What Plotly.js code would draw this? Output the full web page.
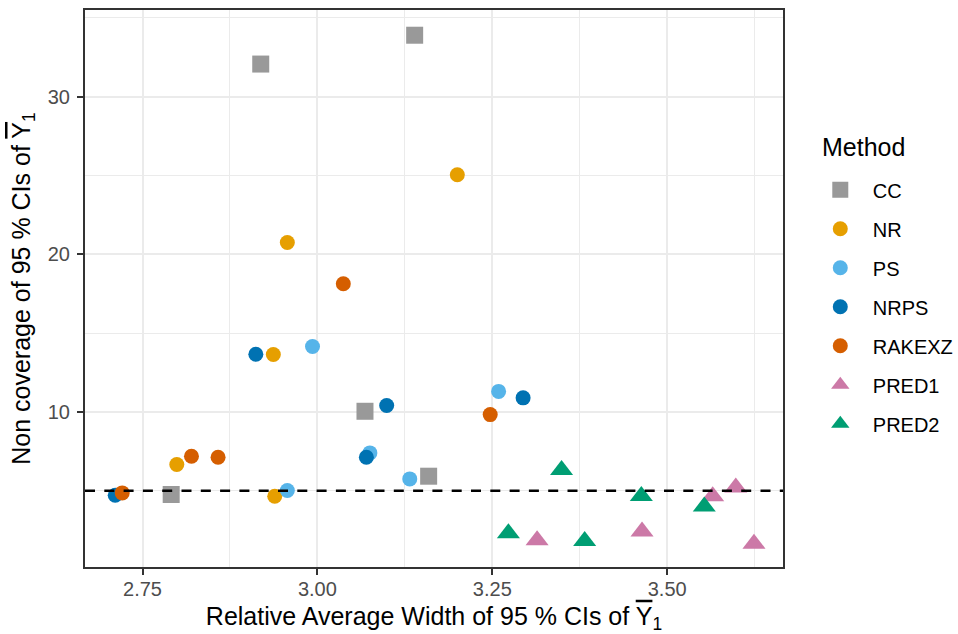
<!DOCTYPE html>
<html>
<head>
<meta charset="utf-8">
<script src="https://cdn.plot.ly/plotly-3.0.1.min.js"></script>
<style>html,body{margin:0;padding:0;background:#fff;}#chart{width:958px;height:634px;}</style>
</head>
<body>
<div id="chart"></div>
<script>
// ---- data ----
const methods = ["CC", "NR", "PS", "NRPS", "RAKEXZ", "PRED1", "PRED2"];
const ccX = [2.919, 3.139, 3.068, 2.791, 3.159];
const ccY = [32.07, 33.9, 10.04, 4.76, 5.92];
const nrX = [2.957, 3.200, 2.937, 2.799, 2.939];
const nrY = [20.75, 25.05, 13.64, 6.66, 4.65];
const psX = [2.993, 2.957, 3.075, 3.132, 3.259];
const psY = [14.15, 5.01, 7.40, 5.75, 11.30];
const nrpsX = [2.912, 3.099, 3.070, 2.711, 3.294];
const nrpsY = [13.66, 10.41, 7.12, 4.71, 10.89];
const rakeX = [3.037, 2.820, 2.858, 2.721, 3.247];
const rakeY = [18.13, 7.19, 7.12, 4.86, 9.83];
const pred1X = [3.314, 3.464, 3.565, 3.598, 3.624];
const pred1Y = [1.85, 2.41, 4.65, 5.20, 1.64];
const pred2X = [3.273, 3.349, 3.382, 3.463, 3.553];
const pred2Y = [2.30, 6.32, 1.81, 4.67, 3.99];
const nominalLevel = 5;
const xTickVals = [2.75, 3.00, 3.25, 3.50];
const xTickText = ["2.75", "3.00", "3.25", "3.50"];
const yTickVals = [10, 20, 30];
const yTickText = ["10", "20", "30"];
const legendTitle = "Method";

// ---- styles ----
const colors = ["#999999", "#E69F00", "#56B4E9", "#0072B2", "#D55E00", "#CC79A7", "#009E73"];
const symbols = ["square", "circle", "circle", "circle", "circle", "triangle-up", "triangle-up"];
const sizes = [17, 15, 15, 15, 15, 20, 20];
const xs = [ccX, nrX, psX, nrpsX, rakeX, pred1X, pred2X];
const ys = [ccY, nrY, psY, nrpsY, rakeY, pred1Y, pred2Y];

const traces = methods.map((m, i) => ({
  type: "scatter",
  mode: "markers",
  name: m,
  legendgroup: m,
  x: xs[i],
  y: ys[i],
  marker: {symbol: symbols[i], size: sizes[i], color: colors[i], line: {width: 0}},
  hoverinfo: "x+y+name"
}));

const FONT = "Liberation Sans, Arial, Helvetica, sans-serif";
const ybar = '<span style="text-decoration:overline">Y</span><sub>1</sub>';

const layout = {
  width: 958,
  height: 634,
  margin: {l: 85, r: 175.3, t: 10, b: 67.3},
  paper_bgcolor: "#ffffff",
  plot_bgcolor: "#ffffff",
  font: {family: FONT, color: "#000000"},
  showlegend: true,
  xaxis: {
    range: [2.6678, 3.6655],
    tickmode: "array",
    tickvals: xTickVals,
    ticktext: xTickText,
    ticks: "outside",
    ticklen: 6,
    tickwidth: 2,
    tickcolor: "#333333",
    tickfont: {family: FONT, size: 20, color: "#4D4D4D"},
    ticklabelstandoff: -3,
    showgrid: true,
    gridcolor: "#EBEBEB",
    gridwidth: 2,
    minor: {tickmode: "array", tickvals: [2.875, 3.125, 3.375, 3.625], showgrid: true, gridcolor: "#EBEBEB", gridwidth: 1, ticks: ""},
    zeroline: false,
    showline: true,
    linecolor: "#333333",
    linewidth: 2,
    mirror: true,
    title: {text: "Relative Average Width of 95 % CIs of " + ybar, font: {family: FONT, size: 25, color: "#000000"}, standoff: 12}
  },
  yaxis: {
    range: [0.159, 35.5],
    tickmode: "array",
    tickvals: yTickVals,
    ticktext: yTickText,
    ticks: "outside",
    ticklen: 6,
    tickwidth: 2,
    tickcolor: "#333333",
    tickfont: {family: FONT, size: 20, color: "#4D4D4D"},
    ticklabelstandoff: 3,
    showgrid: true,
    gridcolor: "#EBEBEB",
    gridwidth: 2,
    minor: {tickmode: "array", tickvals: [5, 15, 25, 35], showgrid: true, gridcolor: "#EBEBEB", gridwidth: 1, ticks: ""},
    zeroline: false,
    showline: true,
    linecolor: "#333333",
    linewidth: 2,
    mirror: true,
    title: {text: "Non coverage of 95 % CIs of " + ybar, font: {family: FONT, size: 25, color: "#000000"}, standoff: 10}
  },
  legend: {
    xref: "container",
    yref: "container",
    x: 0.8432,
    xanchor: "left",
    y: 0.7314,
    yanchor: "top",
    traceorder: "grouped",
    tracegroupgap: 10,
    itemwidth: 55,
    font: {family: FONT, size: 20, color: "#000000"},
    bgcolor: "rgba(0,0,0,0)",
    borderwidth: 0
  },
  annotations: [{
    text: legendTitle,
    xref: "paper", yref: "paper",
    x: 1.0531, y: 0.7545,
    xanchor: "left", yanchor: "middle",
    showarrow: false,
    font: {family: FONT, size: 25, color: "#000000"}
  }],
  shapes: [{
    type: "line",
    xref: "paper", x0: 0, x1: 1,
    yref: "y", y0: nominalLevel, y1: nominalLevel,
    line: {color: "#000000", width: 2.4, dash: "10px,9.3px"},
    layer: "above"
  }]
};

Plotly.newPlot("chart", traces, layout, {displayModeBar: false, staticPlot: true});
</script>
</body>
</html>
